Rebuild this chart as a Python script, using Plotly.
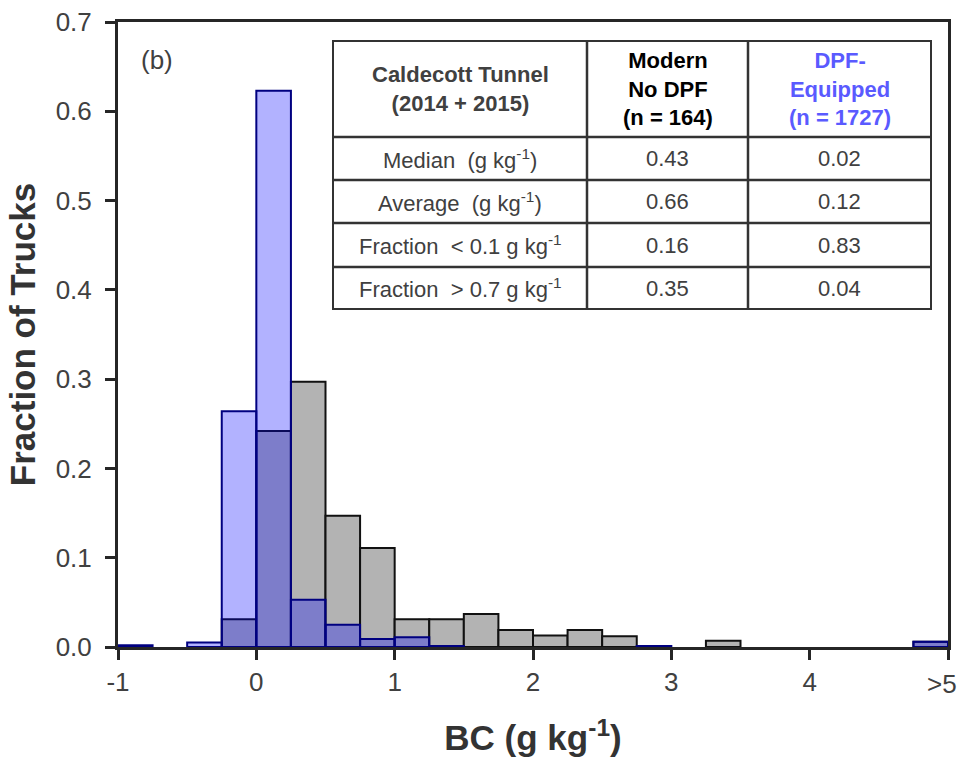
import plotly.graph_objects as go

# ---------------- data ----------------
bin_centers = [-0.875, -0.625, -0.375, -0.125, 0.125, 0.375, 0.625, 0.875,
               1.125, 1.375, 1.625, 1.875, 2.125, 2.375, 2.625, 2.875,
               3.125, 3.375, 3.625, 3.875, 4.125, 4.375, 4.625, 4.875]
bin_width = 0.25

modern_no_dpf = [None, None, None, 0.031, 0.242, 0.297, 0.147, 0.111,
                 0.031, 0.031, 0.037, 0.019, 0.013, 0.019, 0.012, None,
                 None, 0.007, None, None, None, None, None, 0.006]
dpf_equipped = [0.002, None, 0.005, 0.264, 0.623, 0.053, 0.025, 0.009,
                0.011, 0.0012, None, None, None, None, None, 0.0012,
                None, None, None, None, None, None, None, 0.006]

x_tickvals = [-1, 0, 1, 2, 3, 4, 5]
x_ticktext = ["-1", "0", "1", "2", "3", "4", ">5"]

table_header = ["<b>Caldecott Tunnel<br>(2014 + 2015)</b>",
                "<b>Modern<br>No DPF<br>(n = 164)</b>",
                "<b>DPF-<br>Equipped<br>(n = 1727)</b>"]
table_rows = ["Median  (g kg<sup>-1</sup>)", "Average  (g kg<sup>-1</sup>)",
              "Fraction  < 0.1 g kg<sup>-1</sup>", "Fraction  > 0.7 g kg<sup>-1</sup>"]
table_modern = ["0.43", "0.66", "0.16", "0.35"]
table_dpf = ["0.02", "0.12", "0.83", "0.04"]

# ---------------- figure ----------------
W, H = 961, 763
ML, MR, MT, MB = 118, 13, 22, 116
PW, PH = W - ML - MR, H - MT - MB

def px(xp):
    return (xp - ML) / PW

def py(yp):
    return (H - MB - yp) / PH

AX = "#262626"
TXT = "#404040"
FONT = "Liberation Sans, Arial, sans-serif"

fig = go.Figure()
fig.add_trace(go.Bar(x=bin_centers, y=modern_no_dpf, width=bin_width,
                     marker=dict(color="#b3b3b3", line=dict(color="#111111", width=2)),
                     name="Modern No DPF", showlegend=False))
fig.add_trace(go.Bar(x=bin_centers, y=dpf_equipped, width=bin_width,
                     marker=dict(color="rgba(0,0,255,0.30)", line=dict(color="#000080", width=2)),
                     name="DPF-Equipped", showlegend=False))

# all tick labels but the last are drawn by the axis; the last (">5") is drawn
# as an annotation at the same tick value so it can be nudged inside the page
axis_ticktext = x_ticktext[:-1] + [""]

fig.update_layout(
    width=W, height=H, barmode="overlay", autosize=False,
    margin=dict(l=ML, r=MR, t=MT, b=MB, pad=0),
    paper_bgcolor="white", plot_bgcolor="white",
    font=dict(family=FONT, color=TXT),
    xaxis=dict(range=[-1, 5], tickvals=x_tickvals, ticktext=axis_ticktext,
               automargin=False, ticklabeloverflow="allow",
               ticks="outside", ticklen=10, tickwidth=3, tickcolor=AX,
               showline=True, linewidth=3, linecolor=AX, mirror=True,
               showgrid=False, zeroline=False,
               tickfont=dict(size=26, color=TXT, family=FONT),
               title=dict(text="<b>BC (g kg<sup>-1</sup>)</b>",
                          font=dict(size=35, color="#333333", family=FONT), standoff=30)),
    yaxis=dict(range=[0, 0.7], dtick=0.1, tickformat=".1f",
               automargin=False, ticklabeloverflow="allow", ticklabelstandoff=8,
               ticks="outside", ticklen=10, tickwidth=3, tickcolor=AX,
               showline=True, linewidth=3, linecolor=AX, mirror=True,
               showgrid=False, zeroline=False,
               tickfont=dict(size=26, color=TXT, family=FONT),
               title=dict(text="<b>Fraction of Trucks</b>",
                          font=dict(size=35, color="#333333", family=FONT), standoff=10)),
)

fig.add_annotation(x=x_tickvals[-1], y=0, xref="x", yref="paper", text=x_ticktext[-1],
                   showarrow=False, xanchor="right", yanchor="top", xshift=11, yshift=-20,
                   font=dict(size=26, color=TXT, family=FONT))

# panel label
fig.add_annotation(x=px(139), y=py(60), xref="paper", yref="paper", text="(b)",
                   showarrow=False, xanchor="left", yanchor="middle",
                   font=dict(size=26, color=TXT, family=FONT))

# ---------------- table ----------------
col_edges = [333, 587, 748, 931]
row_edges = [41, 137, 180, 223, 267, 309]
LINE = "#333333"

fig.add_shape(type="rect", xref="paper", yref="paper",
              x0=px(col_edges[0]), x1=px(col_edges[-1]),
              y0=py(row_edges[-1]), y1=py(row_edges[0]),
              line=dict(color=LINE, width=2), fillcolor="white", layer="above")
for cx in col_edges[1:-1]:
    fig.add_shape(type="line", xref="paper", yref="paper",
                  x0=px(cx), x1=px(cx), y0=py(row_edges[-1]), y1=py(row_edges[0]),
                  line=dict(color=LINE, width=2.5), layer="above")
for ry in row_edges[1:-1]:
    fig.add_shape(type="line", xref="paper", yref="paper",
                  x0=px(col_edges[0]), x1=px(col_edges[-1]), y0=py(ry), y1=py(ry),
                  line=dict(color=LINE, width=2.5), layer="above")

col_centers = [(col_edges[i] + col_edges[i + 1]) / 2 for i in range(3)]
header_colors = [TXT, "#000000", "#5a5aff"]
header_mid = (row_edges[0] + row_edges[1]) / 2
for i, txt in enumerate(table_header):
    fig.add_annotation(x=px(col_centers[i]), y=py(header_mid), xref="paper", yref="paper",
                       text=txt, showarrow=False, xanchor="center", yanchor="middle",
                       font=dict(size=22, color=header_colors[i], family=FONT))

for r in range(len(table_rows)):
    ymid = (row_edges[r + 1] + row_edges[r + 2]) / 2
    for i, txt in enumerate([table_rows[r], table_modern[r], table_dpf[r]]):
        fig.add_annotation(x=px(col_centers[i]), y=py(ymid), xref="paper", yref="paper",
                           text=txt, showarrow=False, xanchor="center", yanchor="middle",
                           font=dict(size=22, color=TXT, family=FONT))

fig.write_html("out.html")
